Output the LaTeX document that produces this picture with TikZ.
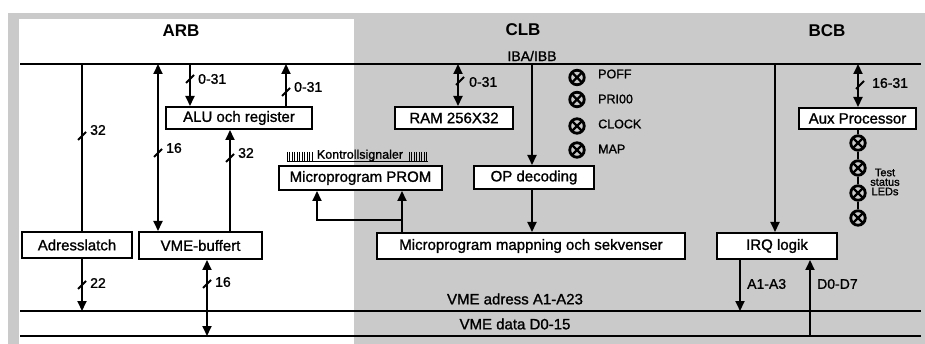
\documentclass[tikz,border=0pt]{standalone}
\usepackage{fontspec}
\setmainfont{Liberation Sans}
\newfontfamily\mf{Liberation Sans}[FakeBold=1.2]
\usetikzlibrary{arrows.meta}
\definecolor{dotgray}{RGB}{202,202,202}
\newcommand\busslash[2]{\draw[line width=1.9pt] ({#1-4},{#2+4}) -- ({#1+4},{#2-4});}
\begin{document}
\begin{tikzpicture}[x=1pt,y=-1pt,
  box/.style={draw, line width=2pt, fill=white, inner sep=0pt, font=\mf\fontsize{15}{17}\selectfont},
  bus/.style={line width=2.2pt},
  wire/.style={line width=1.9pt},
  arr/.style={wire, -{Triangle[length=10pt,width=9pt]}},
  darr/.style={wire, {Triangle[length=10pt,width=9pt]}-{Triangle[length=10pt,width=9pt]}},
  lbl/.style={font=\mf\fontsize{14}{16}\selectfont, inner sep=0pt, anchor=west},
  ttl/.style={font=\bfseries\fontsize{17}{19}\selectfont, inner sep=0pt},
  led/.style={circle, draw, line width=2.8pt, minimum size=14.5pt, inner sep=0pt,
    path picture={\draw[line width=2.4pt]
      ([shift={(-9pt,-9pt)}]path picture bounding box.center) -- ([shift={(9pt,9pt)}]path picture bounding box.center)
      ([shift={(-9pt,9pt)}]path picture bounding box.center) -- ([shift={(9pt,-9pt)}]path picture bounding box.center);}}
]
\useasboundingbox (0,0) rectangle (925,344);
\fill[white] (0,0) rectangle (925,344);
\fill[dotgray] (8,13) rectangle (925,344);
\fill[white] (19,19) rectangle (354,344);

% titles
\node[ttl] (tarb) at (181,31) {ARB};
\node[ttl] (tclb) at (523,30) {CLB};
\node[ttl] (tbcb) at (827,31) {BCB};

% buses
\coordinate (busL) at (20,64);
\coordinate (busR) at (921,64);
\coordinate (abL) at (20,311);
\coordinate (abR) at (921,311);
\coordinate (dbL) at (20,336);
\coordinate (dbR) at (921,336);
\draw[bus] (busL) -- (busR);
\draw[bus] (abL) -- (abR);
\draw[bus] (dbL) -- (dbR);
\node[font=\mf\fontsize{14}{16}\selectfont, inner sep=0pt] (iba) at (532,56) {IBA/IBB};
\node[font=\mf\fontsize{15}{17}\selectfont, inner sep=0pt] (vmea) at (515,299) {VME adress A1-A23};
\node[font=\mf\fontsize{15}{17}\selectfont, inner sep=0pt] (vmed) at (515,324) {VME data D0-15};

% boxes
\node[box, minimum width=146pt, minimum height=22pt] (alu) at (239,118) {ALU och register};
\node[box, minimum width=110pt, minimum height=26pt] (adr) at (77,245) {Adresslatch};
\node[box, minimum width=123pt, minimum height=27pt] (vmeb) at (200.5,245.5) {VME-buffert};
\node[box, minimum width=118pt, minimum height=22pt] (ram) at (454,118) {RAM 256X32};
\node[box, minimum width=163pt, minimum height=24pt] (prom) at (360.5,178) {Microprogram PROM};
\node[box, minimum width=120pt, minimum height=23pt] (opd) at (534,177.5) {OP decoding};
\node[box, minimum width=308pt, minimum height=26pt] (map) at (531,246) {Microprogram mappning och sekvenser};
\node[box, minimum width=120pt, minimum height=26pt] (irq) at (777,246) {IRQ logik};
\node[box, minimum width=117pt, minimum height=21pt] (aux) at (857.5,118.5) {Aux Processor};

% Kontrollsignaler comb
\node[font=\mf\fontsize{12.5}{14}\selectfont, inner sep=0pt] (kontr) at (360,155.5) {Kontrollsignaler};
\foreach \x in {287,289.5,...,312} {\draw[line width=0.9pt] (\x,152) -- (\x,161);}
\foreach \x in {409,411.5,...,428} {\draw[line width=0.9pt] (\x,152) -- (\x,161);}
\draw[line width=0.9pt] (287,161) -- (428,161);

% ARB connectors
\coordinate (c1) at (82,64);
\draw[wire] (c1) -- (c1 |- adr.north);
\busslash{82}{136}
\node[lbl] (l32a) at (90,130) {32};
\draw[arr] (adr.south -| c1) -- (c1 |- abL);
\busslash{82}{285}
\node[lbl] (l22) at (90,283) {22};

\coordinate (c3) at (158,64);
\draw[darr] (vmeb.north -| c3) -- (c3);
\busslash{158}{153}
\node[lbl] (l16a) at (166,148) {16};

\coordinate (c4) at (190,64);
\draw[arr] (c4) -- (c4 |- alu.north);
\busslash{190}{79}
\node[lbl] (l031a) at (198,79) {0-31};

\coordinate (c5) at (286,64);
\draw[arr] (alu.north -| c5) -- (c5);
\busslash{286}{92}
\node[lbl] (l031b) at (294,87) {0-31};

\coordinate (c6) at (230,232);
\draw[arr] (vmeb.north -| c6) -- (c6 |- alu.south);
\busslash{230}{158}
\node[lbl] (l32b) at (238,153) {32};

\coordinate (c7) at (207,259);
\draw[darr] (vmeb.south -| c7) -- (c7 |- dbL);
\busslash{207}{284}
\node[lbl] (l16b) at (215,282) {16};

% CLB connectors
\coordinate (c8) at (458,64);
\draw[darr] (c8) -- (c8 |- ram.north);
\busslash{460}{81}
\node[lbl] (l031c) at (469,82) {0-31};

\coordinate (c9) at (532,64);
\draw[arr] (c9) -- (c9 |- opd.north);
\draw[arr] (opd.south -| c9) -- (c9 |- map.north);

\coordinate (c11) at (402,220);
\coordinate (c12) at (317,220);
\draw[arr] (map.north -| c11) -- (c11 |- prom.south);
\draw[arr] (c11) -- (c12) -- (c12 |- prom.south);

% CLB LEDs
\node[led] (lp1) at (577,77.5) {};
\node[led] (lp2) at (577,99.5) {};
\node[led] (lp3) at (577,126) {};
\node[led] (lp4) at (577,150) {};
\node[lbl, font=\mf\fontsize{12.5}{14}\selectfont] (tpoff) at (598,74) {POFF};
\node[lbl, font=\mf\fontsize{12.5}{14}\selectfont] (tpri) at (598,99) {PRI00};
\node[lbl, font=\mf\fontsize{12.5}{14}\selectfont] (tclk) at (598,124) {CLOCK};
\node[lbl, font=\mf\fontsize{12.5}{14}\selectfont] (tmap) at (598,149) {MAP};

% BCB connectors
\coordinate (c13) at (775,64);
\draw[arr] (c13) -- (c13 |- irq.north);

\coordinate (c14) at (858,64);
\draw[darr] (c14) -- (c14 |- aux.north);
\busslash{860}{85}
\node[lbl] (l1631) at (872,83) {16-31};

\node[led] (t1) at (858,143) {};
\node[led] (t2) at (858,168) {};
\node[led] (t3) at (858,193) {};
\node[led] (t4) at (858,218) {};
\draw[wire] (aux.south -| t1) -- (t1.north);
\draw[wire] (t1.south) -- (t2.north);
\draw[wire] (t2.south) -- (t3.north);
\draw[wire] (t3.south) -- (t4.north);
\node[font=\mf\fontsize{11}{9.5}\selectfont, align=center, inner sep=0pt] (tsl) at (885,182) {Test\\status\\LEDs};

\coordinate (c15) at (740,259);
\draw[arr] (irq.south -| c15) -- (c15 |- abL);
\node[lbl] (la13) at (747,284) {A1-A3};
\coordinate (c16) at (810,336);
\draw[arr] (c16) -- (c16 |- irq.south);
\node[lbl] (ld07) at (817,284) {D0-D7};
\end{tikzpicture}
\end{document}
